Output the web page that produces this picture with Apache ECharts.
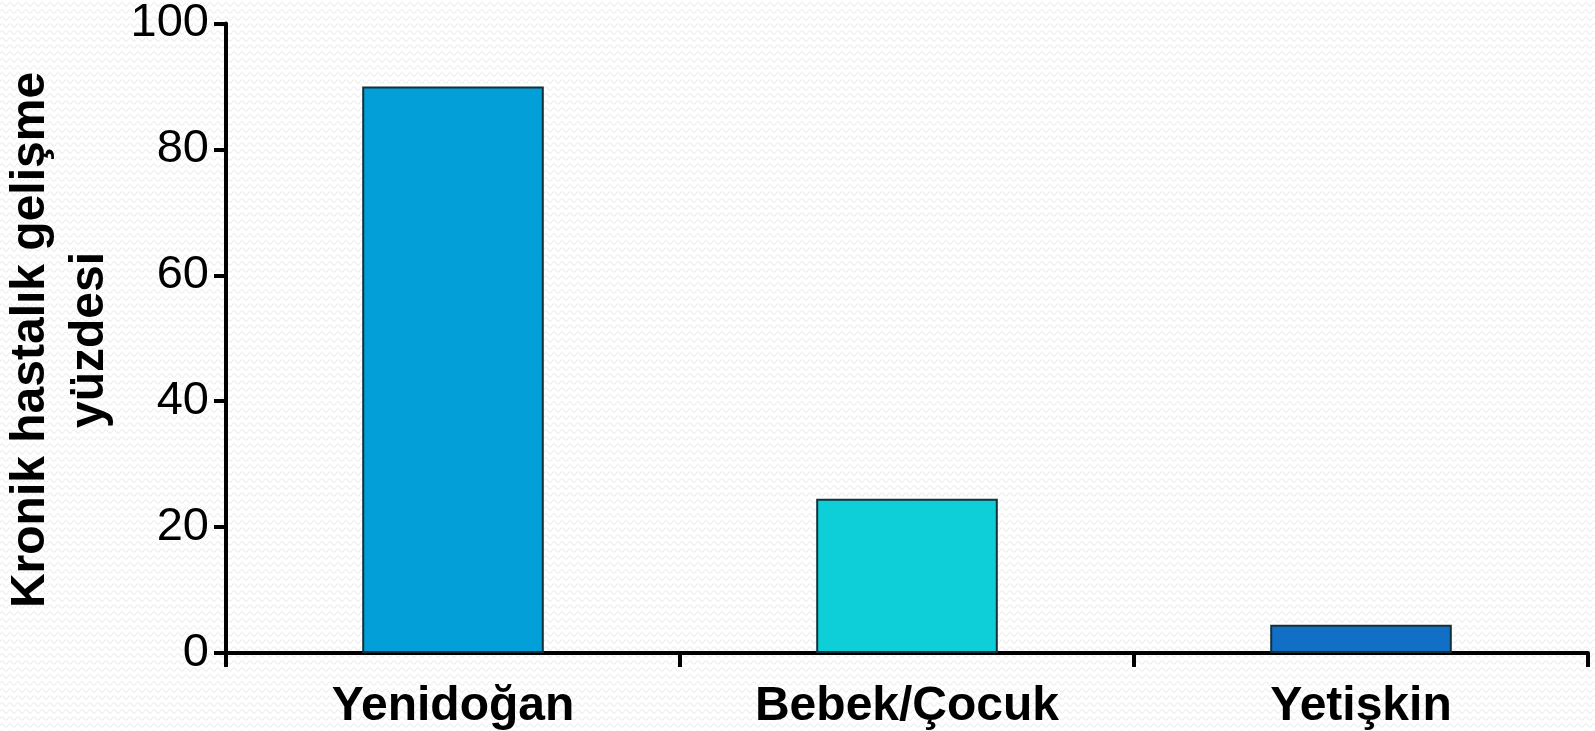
<!DOCTYPE html>
<html>
<head>
<meta charset="utf-8">
<script src="https://cdn.jsdelivr.net/npm/echarts@6/dist/echarts.min.js"></script>
<style>
  html, body { margin: 0; padding: 0; }
  body {
    width: 1595px; height: 731px;
    background-color: #ffffff;
    background-image: url("data:image/svg+xml,%3Csvg xmlns='http://www.w3.org/2000/svg' width='8' height='7'%3E%3Cpath d='M0 4.5 Q2 1 4 4.5 T8 4.5' fill='none' stroke='%23ededed' stroke-width='1.2'/%3E%3C/svg%3E");
  }
  #chart { width: 1595px; height: 731px; }
</style>
</head>
<body>
<div id="chart"></div>
<script>
// Chronic disease development by age at infection
const categories = ['Yenidoğan', 'Bebek/Çocuk', 'Yetişkin'];
const values = [90, 24.5, 4.5];
const yTicks = { min: 0, max: 100, interval: 20 };
const yTitle = 'Kronik hastalık gelişme\nyüzdesi';

const barColors = ['#039fd9', '#0ecfd8', '#1170c6'];
const font = '"Liberation Sans", Arial, Helvetica, sans-serif';

const chart = echarts.init(document.getElementById('chart'), null, { renderer: 'canvas' });

chart.setOption({
  backgroundColor: 'transparent',
  animation: false,
  grid: { left: 226, right: 7, top: 23, bottom: 78, containLabel: false },
  xAxis: {
    type: 'category',
    data: categories,
    boundaryGap: true,
    axisLine: { show: true, lineStyle: { color: '#000', width: 4 } },
    axisTick: { show: true, alignWithLabel: false, length: 14, lineStyle: { color: '#000', width: 4 } },
    axisLabel: { color: '#000', fontSize: 48, fontWeight: 'bold', fontFamily: font, margin: 30 },
    splitLine: { show: false }
  },
  yAxis: {
    type: 'value',
    min: yTicks.min,
    max: yTicks.max,
    interval: yTicks.interval,
    axisLine: { show: true, lineStyle: { color: '#000', width: 4 } },
    axisTick: { show: true, length: 12, lineStyle: { color: '#000', width: 4 } },
    axisLabel: { color: '#000', fontSize: 47, fontFamily: font, margin: 17 },
    splitLine: { show: false }
  },
  graphic: [{
    type: 'text',
    x: 60,
    y: 340,
    rotation: Math.PI / 2,
    style: {
      text: yTitle,
      font: 'bold 48px ' + font,
      fill: '#000',
      align: 'center',
      verticalAlign: 'middle',
      lineHeight: 59
    }
  }],
  series: [{
    type: 'bar',
    barWidth: '40%',
    data: values.map((v, i) => ({
      value: v,
      itemStyle: { color: barColors[i] }
    })),
    itemStyle: { borderColor: '#13313b', borderWidth: 2 }
  }]
});
</script>
</body>
</html>
